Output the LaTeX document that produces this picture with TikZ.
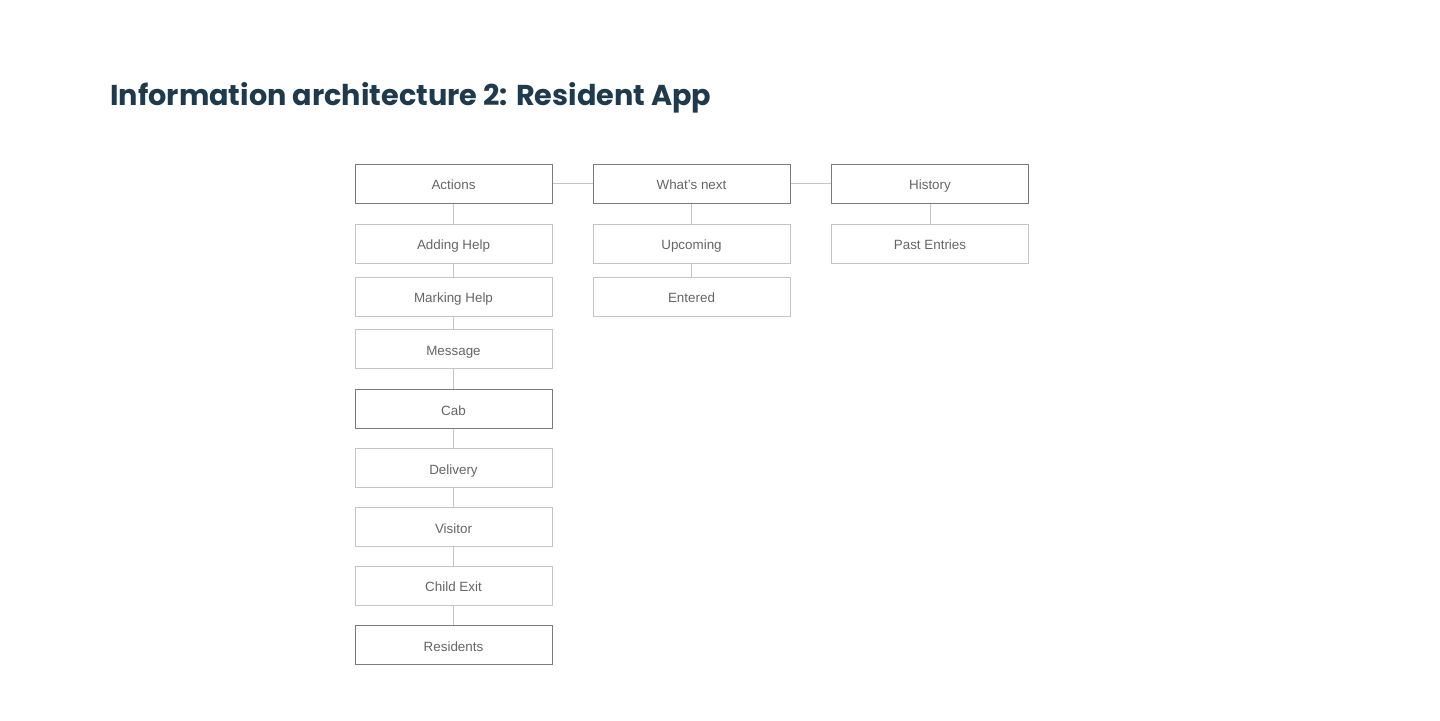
\documentclass[tikz,border=0pt]{standalone}
\usepackage{fontspec}
\setmainfont{Liberation Sans}
\newfontfamily\titlefont{Poppins}
\definecolor{titleblue}{HTML}{1E3A4C}
\definecolor{labelgray}{HTML}{666666}
\definecolor{darkline}{HTML}{7A7A7A}
\definecolor{lightline}{HTML}{C4C4C4}
\tikzset{
  box/.style={rectangle, minimum width=98.5pt, minimum height=19.5pt, inner sep=0pt,
    text height=7.2pt, text depth=1.2pt, text=labelgray,
    font=\fontsize{6.7}{8}\selectfont, line width=0.5pt},
  topbox/.style={box, draw=darkline},
  subbox/.style={box, draw=lightline},
  link/.style={draw=lightline, line width=0.5pt}
}

\begin{document}
\begin{tikzpicture}[x=0.5pt, y=-0.5pt]
        \fill[white] (0,0) rectangle (1440,720);
        \useasboundingbox (0,0) rectangle (1440,720);
        \node[anchor=west, text=titleblue, inner sep=0pt, font=\titlefont\bfseries\fontsize{14.35}{16}\selectfont] (title) at (110,98) {Information architecture 2: Resident App};
        \node[topbox] (actions) at (453.5,183.5) {Actions};
        \node[subbox] (adding) at (453.5,243.5) {Adding Help};
        \node[subbox] (marking) at (453.5,296.5) {Marking Help};
        \node[subbox] (message) at (453.5,349) {Message};
        \node[topbox] (cab) at (453.5,409) {Cab};
        \node[subbox] (delivery) at (453.5,468) {Delivery};
        \node[subbox] (visitor) at (453.5,527) {Visitor};
        \node[subbox] (childexit) at (453.5,585.5) {Child Exit};
        \node[topbox] (residents) at (453.5,645) {Residents};
        \node[topbox] (next) at (691.5,183.5) {What’s next};
        \node[subbox] (upcoming) at (691.5,243.5) {Upcoming};
        \node[subbox] (entered) at (691.5,296.5) {Entered};
        \node[topbox] (history) at (930,183.5) {History};
        \node[subbox] (past) at (930,243.5) {Past Entries};
        % top row
        \draw[link] (actions) -- (next);
        \draw[link] (next) -- (history);
        % columns
        \draw[link] (actions) -- (adding);
        \draw[link] (adding) -- (marking);
        \draw[link] (marking) -- (message);
        \draw[link] (message) -- (cab);
        \draw[link] (cab) -- (delivery);
        \draw[link] (delivery) -- (visitor);
        \draw[link] (visitor) -- (childexit);
        \draw[link] (childexit) -- (residents);
        \draw[link] (next) -- (upcoming);
        \draw[link] (upcoming) -- (entered);
        \draw[link] (history) -- (past);
    \end{tikzpicture}
\end{document}
